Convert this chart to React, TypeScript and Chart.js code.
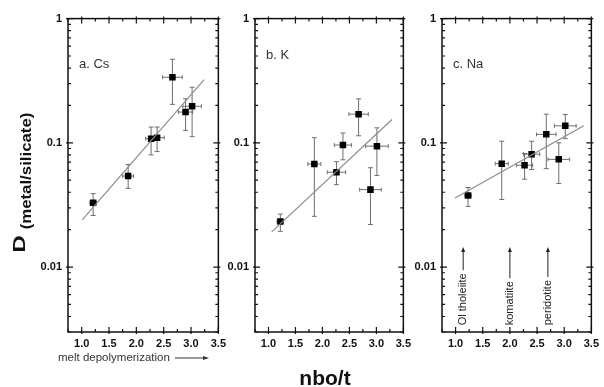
import React, { useEffect, useRef } from "react";
import { Chart, registerables } from "chart.js";
Chart.register(...registerables);

const FONT = "'Liberation Sans', Arial, Helvetica, sans-serif";

// Tick values
const xTickValues = [1.0, 1.5, 2.0, 2.5, 3.0, 3.5];
const xMinorTicks = [0.75, 1.25, 1.75, 2.25, 2.75, 3.25];
const yTickValues = [0.01, 0.1, 1];
const yMinorTicks = [
  0.003, 0.004, 0.005, 0.006, 0.007, 0.008, 0.009,
  0.02, 0.03, 0.04, 0.05, 0.06, 0.07, 0.08, 0.09,
  0.2, 0.3, 0.4, 0.5, 0.6, 0.7, 0.8, 0.9,
];

// a. Cs
const csX = [1.21, 1.85, 2.27, 2.38, 2.66, 2.9, 3.02];
const csY = [0.033, 0.054, 0.108, 0.11, 0.337, 0.177, 0.197];
const csXErr = [0.06, 0.1, 0.1, 0.13, 0.18, 0.13, 0.17];
const csYLow = [0.026, 0.043, 0.08, 0.085, 0.204, 0.126, 0.112];
const csYHigh = [0.039, 0.067, 0.134, 0.134, 0.47, 0.226, 0.28];
const csFitX = [1.01, 3.24];
const csFitY = [0.024, 0.323];

// b. K
const kX = [1.22, 1.85, 2.26, 2.38, 2.67, 2.89, 3.01];
const kY = [0.0233, 0.0675, 0.058, 0.096, 0.17, 0.042, 0.094];
const kXErr = [0.06, 0.12, 0.17, 0.16, 0.18, 0.2, 0.21];
const kYLow = [0.0194, 0.0256, 0.046, 0.073, 0.114, 0.022, 0.0545];
const kYHigh = [0.0267, 0.11, 0.0705, 0.12, 0.226, 0.063, 0.132];
const kFitX = [1.06, 3.29];
const kFitY = [0.0192, 0.154];

// c. Na
const naX = [1.23, 1.85, 2.27, 2.4, 2.67, 2.9, 3.02];
const naY = [0.0377, 0.068, 0.066, 0.081, 0.117, 0.0736, 0.137];
const naXErr = [0.06, 0.12, 0.15, 0.15, 0.18, 0.2, 0.2];
const naYLow = [0.0308, 0.035, 0.051, 0.061, 0.062, 0.047, 0.108];
const naYHigh = [0.0437, 0.103, 0.082, 0.103, 0.17, 0.1, 0.169];
const naFitX = [0.99, 3.36];
const naFitY = [0.0359, 0.137];

// Rock-type annotations in panel c
const rockLabels = ["Ol tholeiite", "komatiite", "peridotite"];
const rockX = [1.14, 2.0, 2.7];
const rockBase = 0.0034;
const rockTip = 0.0145;

type Panel = {
  label: string;
  x: number[];
  y: number[];
  xErr: number[];
  yLow: number[];
  yHigh: number[];
  fitX: number[];
  fitY: number[];
  left: number;
  width: number;
  labelDx: number;
  labelDy: number;
  rocks: boolean;
};

const panels: Panel[] = [
  { label: "a. Cs", x: csX, y: csY, xErr: csXErr, yLow: csYLow, yHigh: csYHigh, fitX: csFitX, fitY: csFitY, left: 68, width: 151, labelDx: 11, labelDy: 46, rocks: false },
  { label: "b. K", x: kX, y: kY, xErr: kXErr, yLow: kYLow, yHigh: kYHigh, fitX: kFitX, fitY: kFitY, left: 255, width: 149, labelDx: 11, labelDy: 37, rocks: false },
  { label: "c. Na", x: naX, y: naY, xErr: naXErr, yLow: naYLow, yHigh: naYHigh, fitX: naFitX, fitY: naFitY, left: 442, width: 150, labelDx: 11, labelDy: 46, rocks: true },
];

const Y_AXIS_W = 50;
const X_AXIS_H = 30;
const PAD_TOP = 10;
const PAD_RIGHT = 12;
const CANVAS_TOP = 6;
const CANVAS_H = 356;

function PanelChart({ p }: { p: Panel }) {
  const ref = useRef<HTMLCanvasElement | null>(null);
  useEffect(() => {
    if (!ref.current) return;
    const errorBars = {
      id: "errorBars",
      beforeDatasetsDraw(chart: any) {
        const { ctx, scales } = chart;
        const xs = scales.x, ys = scales.y;
        ctx.save();
        ctx.strokeStyle = "#6e6e6e";
        ctx.lineWidth = 1;
        for (let i = 0; i < p.x.length; i++) {
          const cx = xs.getPixelForValue(p.x[i]);
          const cy = ys.getPixelForValue(p.y[i]);
          const x0 = xs.getPixelForValue(p.x[i] - p.xErr[i]);
          const x1 = xs.getPixelForValue(p.x[i] + p.xErr[i]);
          const y0 = ys.getPixelForValue(p.yLow[i]);
          const y1 = ys.getPixelForValue(p.yHigh[i]);
          ctx.beginPath();
          ctx.moveTo(cx, y0); ctx.lineTo(cx, y1);
          ctx.moveTo(cx - 2.5, y0); ctx.lineTo(cx + 2.5, y0);
          ctx.moveTo(cx - 2.5, y1); ctx.lineTo(cx + 2.5, y1);
          ctx.moveTo(x0, cy); ctx.lineTo(x1, cy);
          ctx.moveTo(x0, cy - 2); ctx.lineTo(x0, cy + 2);
          ctx.moveTo(x1, cy - 2); ctx.lineTo(x1, cy + 2);
          ctx.stroke();
        }
        ctx.restore();
      },
    };
    const frame = {
      id: "frame",
      afterDraw(chart: any) {
        const { ctx, chartArea: a, scales } = chart;
        const xs = scales.x, ys = scales.y;
        ctx.save();
        ctx.strokeStyle = "#111";
        ctx.lineWidth = 1.5;
        ctx.strokeRect(a.left, a.top, a.right - a.left, a.bottom - a.top);
        ctx.lineWidth = 1.2;
        ctx.beginPath();
        const tickX = (v: number, len: number, out: number) => {
          const px = xs.getPixelForValue(v);
          ctx.moveTo(px, a.bottom + out); ctx.lineTo(px, a.bottom - len);
          ctx.moveTo(px, a.top - out); ctx.lineTo(px, a.top + len);
        };
        const tickY = (v: number, len: number, out: number) => {
          const py = ys.getPixelForValue(v);
          ctx.moveTo(a.left - out, py); ctx.lineTo(a.left + len, py);
          ctx.moveTo(a.right + out, py); ctx.lineTo(a.right - len, py);
        };
        xTickValues.forEach((v) => tickX(v, 5, 2));
        xMinorTicks.forEach((v) => tickX(v, 3, 0));
        yTickValues.forEach((v) => tickY(v, 5, 2));
        yMinorTicks.forEach((v) => tickY(v, 3, 0));
        ctx.stroke();

        ctx.fillStyle = "#333";
        ctx.font = `13px ${FONT}`;
        ctx.textAlign = "left";
        ctx.textBaseline = "middle";
        ctx.fillText(p.label, a.left + p.labelDx, a.top + p.labelDy);

        if (p.rocks) {
          ctx.font = `11px ${FONT}`;
          ctx.fillStyle = "#222";
          ctx.strokeStyle = "#222";
          ctx.lineWidth = 1;
          rockLabels.forEach((t, i) => {
            const px = xs.getPixelForValue(rockX[i]);
            const pyBase = ys.getPixelForValue(rockBase);
            const pyTip = ys.getPixelForValue(rockTip);
            ctx.save();
            ctx.translate(px, pyBase);
            ctx.rotate(-Math.PI / 2);
            ctx.textAlign = "left";
            ctx.textBaseline = "middle";
            ctx.fillText(t, 0, 0);
            ctx.restore();
            const w = ctx.measureText(t).width;
            const start = pyBase - w - 3;
            ctx.beginPath();
            ctx.moveTo(px, start);
            ctx.lineTo(px, pyTip + 4);
            ctx.stroke();
            ctx.beginPath();
            ctx.moveTo(px, pyTip);
            ctx.lineTo(px - 2, pyTip + 5);
            ctx.lineTo(px + 2, pyTip + 5);
            ctx.closePath();
            ctx.fill();
          });
        }
        ctx.restore();
      },
    };
    const tickFont = { family: FONT, size: 11, weight: "bold" as const };
    const chart = new Chart(ref.current, {
      type: "scatter",
      data: {
        datasets: [
          {
            type: "line",
            data: p.fitX.map((x, i) => ({ x, y: p.fitY[i] })),
            borderColor: "#8c8c8c",
            borderWidth: 1.2,
            pointRadius: 0,
            fill: false,
          } as any,
          {
            type: "scatter",
            data: p.x.map((x, i) => ({ x, y: p.y[i] })),
            pointStyle: "rect",
            pointRadius: 4.6,
            backgroundColor: "#000",
            borderColor: "#000",
            borderWidth: 0,
          },
        ],
      },
      options: {
        animation: false,
        responsive: true,
        maintainAspectRatio: false,
        events: [],
        layout: { padding: { top: PAD_TOP, right: PAD_RIGHT, left: 0, bottom: 0 } },
        plugins: { legend: { display: false }, tooltip: { enabled: false } },
        scales: {
          x: {
            type: "linear",
            min: 0.75,
            max: 3.5,
            grid: { display: false, drawTicks: false },
            border: { display: false },
            afterBuildTicks: (s: any) => {
              s.ticks = xTickValues.map((v) => ({ value: v }));
            },
            afterFit: (s: any) => {
              s.height = X_AXIS_H;
            },
            ticks: {
              padding: 5,
              color: "#111",
              font: tickFont,
              autoSkip: false,
              maxRotation: 0,
              callback: (v: any) => Number(v).toFixed(1),
            },
          },
          y: {
            type: "logarithmic",
            min: 0.003,
            max: 1,
            grid: { display: false, drawTicks: false },
            border: { display: false },
            afterBuildTicks: (s: any) => {
              s.ticks = yTickValues.map((v) => ({ value: v }));
            },
            afterFit: (s: any) => {
              s.width = Y_AXIS_W;
            },
            ticks: {
              padding: 6,
              color: "#111",
              font: tickFont,
              autoSkip: false,
              callback: (v: any) => String(v),
            },
          },
        },
      } as any,
      plugins: [errorBars, frame],
    });
    return () => chart.destroy();
  }, [p]);
  return (
    <div
      style={{
        position: "absolute",
        left: p.left - Y_AXIS_W,
        top: CANVAS_TOP,
        width: p.width + Y_AXIS_W + PAD_RIGHT,
        height: CANVAS_H,
      }}
    >
      <canvas ref={ref} />
    </div>
  );
}

export default function App() {
  return (
    <div
      style={{
        position: "absolute",
        left: 0,
        top: 0,
        width: 604,
        height: 387,
        background: "#fff",
        overflow: "hidden",
        fontFamily: FONT,
      }}
    >
      {panels.map((p) => (
        <PanelChart key={p.label} p={p} />
      ))}
      <div
        style={{
          position: "absolute",
          left: 19,
          top: 243.5,
          transform: "translate(-50%, -50%) rotate(-90deg) scaleX(1.4)",
          fontSize: 17,
          fontWeight: "bold",
          lineHeight: 1,
          whiteSpace: "nowrap",
          color: "#111",
        }}
      >
        D
      </div>
      <div
        style={{
          position: "absolute",
          left: 25.5,
          top: 171,
          transform: "translate(-50%, -50%) rotate(-90deg) scaleX(1.2)",
          fontSize: 14,
          fontWeight: "bold",
          lineHeight: 1,
          whiteSpace: "nowrap",
          color: "#111",
        }}
      >
        (metal/silicate)
      </div>
      <div
        style={{
          position: "absolute",
          left: 58,
          top: 351.5,
          fontSize: 11.5,
          lineHeight: 1,
          whiteSpace: "nowrap",
          color: "#333",
        }}
      >
        melt depolymerization
      </div>
      <svg
        style={{ position: "absolute", left: 174, top: 354, width: 36, height: 8 }}
        width={36}
        height={8}
      >
        <line x1={1} y1={4} x2={31} y2={4} stroke="#333" strokeWidth={1} />
        <polygon points="35,4 29,2 29,6" fill="#333" />
      </svg>
      <div
        style={{
          position: "absolute",
          left: 325,
          top: 367,
          transform: "translateX(-50%)",
          fontSize: 21,
          fontWeight: "bold",
          lineHeight: 1,
          whiteSpace: "nowrap",
          color: "#111",
        }}
      >
        nbo/t
      </div>
    </div>
  );
}
